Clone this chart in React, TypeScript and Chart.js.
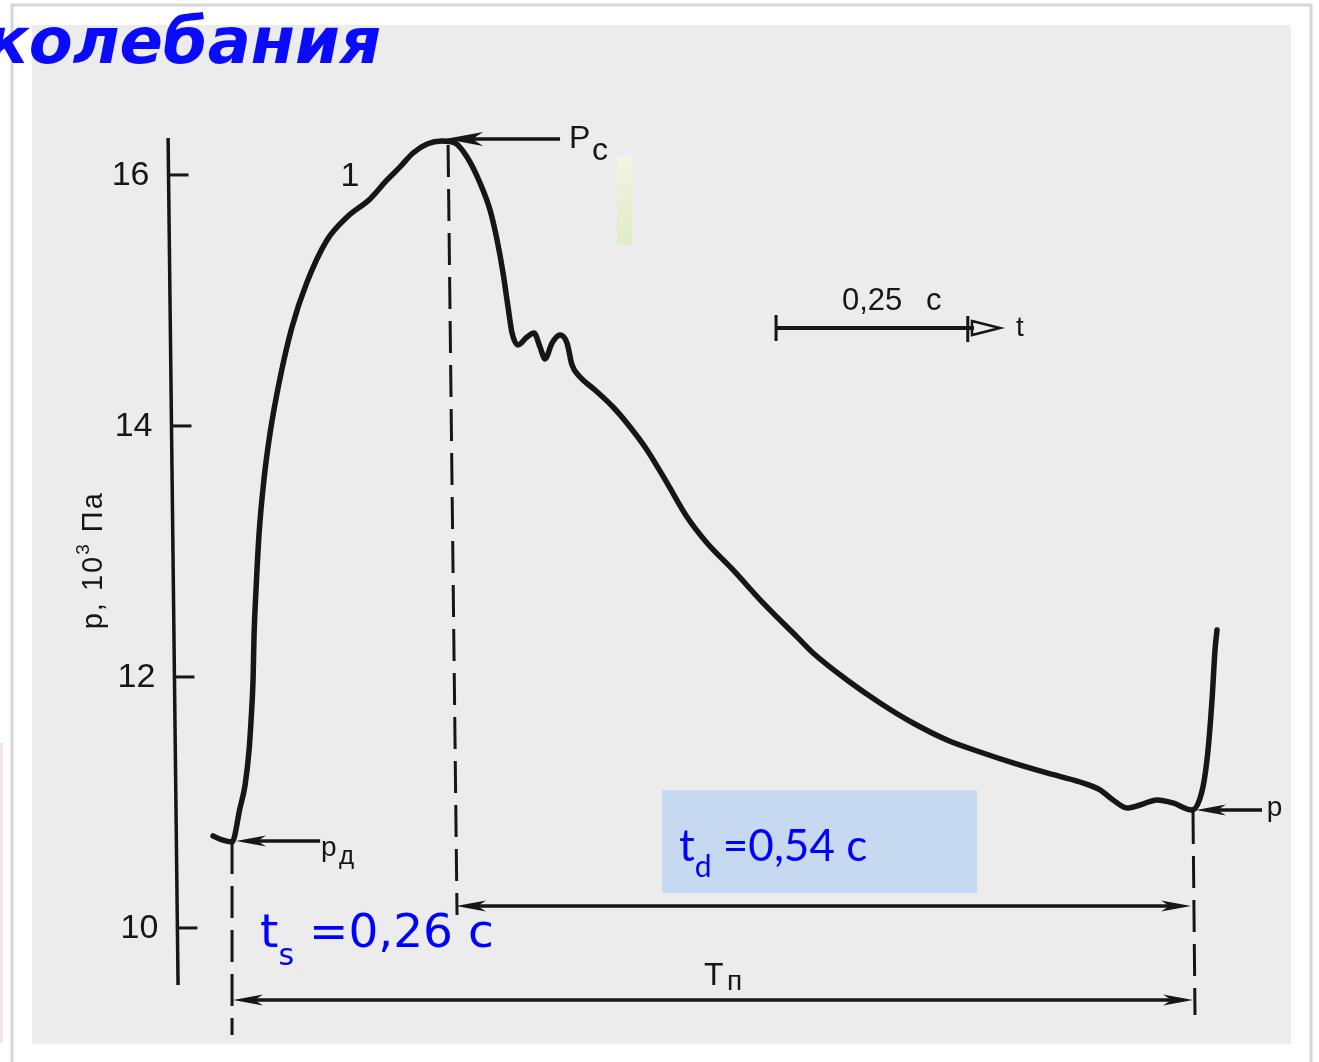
import React, { useEffect, useRef } from "react";
import { Chart, registerables } from "chart.js";

Chart.register(...registerables);

// ---------------- data ----------------
// time (s) from the start of the cycle, pressure (10^3 Pa)
const curveTimeS = [
  -0.0222, -0.0104, 0.0026, 0.013, 0.0196, 0.0248, 0.0274, 0.03, 0.0313, 0.0339,
  0.0378, 0.0443, 0.0522, 0.0652, 0.0808, 0.1004, 0.1265, 0.1526, 0.1826, 0.2047,
  0.2217, 0.2386, 0.2569, 0.2764, 0.2934, 0.309, 0.326, 0.339, 0.3482, 0.356,
  0.3625, 0.3677, 0.3755, 0.3873, 0.3964, 0.4042, 0.4107, 0.4199, 0.4303, 0.4394,
  0.4459, 0.4564, 0.4759, 0.4994, 0.5216, 0.5437, 0.5698, 0.5959, 0.622, 0.6559,
  0.695, 0.7393, 0.7602, 0.8045, 0.8476, 0.8906, 0.9349, 0.978, 1.021, 1.0653,
  1.1084, 1.1344, 1.1514, 1.1697, 1.1866, 1.2088, 1.2296, 1.2544, 1.2687, 1.2753,
  1.2805, 1.2844, 1.287,
];
const curvePressure = [
  10.733, 10.701, 10.685, 10.956, 11.139, 11.418, 11.657, 11.976, 12.335, 12.701,
  13.139, 13.578, 13.944, 14.382, 14.789, 15.147, 15.482, 15.665, 15.809, 15.96,
  16.064, 16.175, 16.247, 16.271, 16.255, 16.143, 15.936, 15.721, 15.482, 15.219,
  14.948, 14.741, 14.645, 14.709, 14.741, 14.629, 14.534, 14.661, 14.725, 14.661,
  14.486, 14.39, 14.287, 14.151, 13.992, 13.809, 13.546, 13.275, 13.068, 12.853,
  12.59, 12.319, 12.191, 11.976, 11.793, 11.633, 11.498, 11.402, 11.315, 11.235,
  11.163, 11.1, 11.02, 10.956, 10.98, 11.02, 10.996, 10.94, 11.124, 11.418,
  11.817, 12.215, 12.375,
];

const yTickValues = [10, 12, 14, 16];
const yTickLabels = ["10", "12", "14", "16"];
const yAxisTitle = ["p, 10", "3", " Па"];
const xRange = [-0.3, 1.42];
const yRange = [8.932, 17.394];

// hand-drawn vertical axis (t, p at both ends)
const yAxisLineT = [-0.0808, -0.0678];
const yAxisLineP = [16.294, 9.545];

// dashed vertical markers (start of systole, end of systole, end of cycle)
const markerTopT = [0.0026, 0.2843, 1.2557];
const markerTopP = [10.685, 16.239, 10.924];
const markerBottomT = [0.0026, 0.296, 1.2583];
const markerBottomP = [9.147, 10.104, 9.306];

// horizontal arrows: pд, Pc, p(end), t_d span, T span
const arrowFromT = [0.1174, 0.4303, 1.3457, 0.2947, 0.0039];
const arrowToT = [0.0078, 0.2804, 1.2596, 1.2531, 1.2557];
const arrowP = [10.693, 16.286, 10.94, 10.175, 9.426];
const arrowBothEnds = [false, false, false, true, true];

// time scale bar
const scaleBarStartT = 0.712;
const scaleBarLengthS = 0.25;
const scaleBarTipT = 1.004;
const scaleBarP = 14.78;

// figure labels (t, p of the text baseline start)
const labelTexts = ["1", "Р", "с", "р", "д", "Т", "п", "0,25", "с", "t", "р"];
const labelT = [0.1564, 0.442, 0.472, 0.1186, 0.142, 0.618, 0.648, 0.798, 0.9075, 1.025, 1.352];
const labelP = [15.91, 16.215, 16.119, 10.573, 10.51, 9.545, 9.505, 14.924, 14.924, 14.717, 10.892];
const labelSizes = [34, 32, 32, 28, 26, 32, 28, 31, 31, 28, 28];

// ---------------- drawing helpers ----------------
const W = 1319;
const H = 1062;
const INK = "#161616";
const SCAN_FONT = "'Liberation Sans', Arial, sans-serif";

function arrowHead(ctx: CanvasRenderingContext2D, tipX: number, tipY: number, dir: number, len: number, hw: number) {
  const bx = tipX - dir * len;
  ctx.beginPath();
  ctx.moveTo(tipX, tipY);
  ctx.lineTo(bx, tipY - hw);
  ctx.lineTo(tipX - dir * len * 0.72, tipY);
  ctx.lineTo(bx, tipY + hw);
  ctx.closePath();
  ctx.fill();
}

const decorPlugin = {
  id: "decor",
  beforeDraw(chart: any) {
    const ctx: CanvasRenderingContext2D = chart.ctx;
    ctx.save();
    ctx.fillStyle = "#ffffff";
    ctx.fillRect(0, 0, W, H);
    ctx.fillStyle = "#f5e3e5";
    ctx.fillRect(0, 743, 3, 300);
    ctx.strokeStyle = "#d6d6d6";
    ctx.lineWidth = 3;
    ctx.beginPath();
    ctx.moveTo(12, H);
    ctx.lineTo(12, 5);
    ctx.lineTo(1311, 5);
    ctx.lineTo(1311, H);
    ctx.stroke();
    ctx.fillStyle = "#ececec";
    ctx.fillRect(32, 25, 1259, 1019);
    const g = ctx.createLinearGradient(0, 155, 0, 245);
    g.addColorStop(0, "#f0f6e3");
    g.addColorStop(1, "#deecc7");
    ctx.fillStyle = g;
    ctx.fillRect(617, 155, 15, 90);
    ctx.restore();
  },
  beforeDatasetsDraw(chart: any) {
    const ctx: CanvasRenderingContext2D = chart.ctx;
    const xs = chart.scales.x;
    const ys = chart.scales.y;
    const X = (t: number) => xs.getPixelForValue(t);
    const Y = (p: number) => ys.getPixelForValue(p);
    ctx.save();
    ctx.strokeStyle = INK;
    ctx.fillStyle = INK;
    ctx.lineCap = "butt";

    // vertical axis
    ctx.lineWidth = 3.5;
    ctx.beginPath();
    ctx.moveTo(X(yAxisLineT[0]), Y(yAxisLineP[0]));
    ctx.lineTo(X(yAxisLineT[1]), Y(yAxisLineP[1]));
    ctx.stroke();
    const axisTAt = (p: number) =>
      yAxisLineT[0] + ((p - yAxisLineP[0]) / (yAxisLineP[1] - yAxisLineP[0])) * (yAxisLineT[1] - yAxisLineT[0]);
    ctx.font = `34px ${SCAN_FONT}`;
    ctx.textAlign = "right";
    ctx.textBaseline = "middle";
    yTickValues.forEach((v, i) => {
      const ax = X(axisTAt(v));
      const py = Y(v);
      ctx.lineWidth = 3;
      ctx.beginPath();
      ctx.moveTo(ax, py);
      ctx.lineTo(ax + 20, py);
      ctx.stroke();
      ctx.fillText(yTickLabels[i], ax - 19, py + 1);
    });

    // axis title (rotated)
    ctx.save();
    ctx.translate(X(-0.18), Y(12.93));
    ctx.rotate(-Math.PI / 2);
    ctx.textBaseline = "alphabetic";
    ctx.textAlign = "left";
    (ctx as any).letterSpacing = "2px";
    ctx.font = `29px ${SCAN_FONT}`;
    const w0 = ctx.measureText(yAxisTitle[0]).width;
    ctx.font = `19px ${SCAN_FONT}`;
    const w1 = ctx.measureText(yAxisTitle[1]).width;
    ctx.font = `29px ${SCAN_FONT}`;
    const w2 = ctx.measureText(yAxisTitle[2]).width;
    let cx = -(w0 + w1 + w2) / 2;
    ctx.fillText(yAxisTitle[0], cx, 10);
    cx += w0;
    ctx.font = `19px ${SCAN_FONT}`;
    ctx.fillText(yAxisTitle[1], cx, -3);
    cx += w1;
    ctx.font = `29px ${SCAN_FONT}`;
    ctx.fillText(yAxisTitle[2], cx, 10);
    ctx.restore();

    // dashed markers
    ctx.lineWidth = 3;
    ctx.setLineDash([32, 12]);
    markerTopT.forEach((t, i) => {
      ctx.beginPath();
      ctx.moveTo(X(t), Y(markerTopP[i]));
      ctx.lineTo(X(markerBottomT[i]), Y(markerBottomP[i]));
      ctx.stroke();
    });
    ctx.setLineDash([]);

    // arrows
    arrowFromT.forEach((t0, i) => {
      const x0 = X(t0);
      const x1 = X(arrowToT[i]);
      const y = Y(arrowP[i]);
      const dir = Math.sign(x1 - x0);
      const len = i === 1 ? 38 : 30;
      const hw = i === 1 ? 7 : 5.5;
      ctx.lineWidth = 3.5;
      ctx.beginPath();
      ctx.moveTo(x0 + (arrowBothEnds[i] ? dir * len * 0.7 : 0), y);
      ctx.lineTo(x1 - dir * len * 0.7, y);
      ctx.stroke();
      arrowHead(ctx, x1, y, dir, len, hw);
      if (arrowBothEnds[i]) arrowHead(ctx, x0, y, -dir, len, hw);
    });

    // time scale bar
    const sx0 = X(scaleBarStartT);
    const sx1 = X(scaleBarStartT + scaleBarLengthS);
    const sTip = X(scaleBarTipT);
    const sy = Y(scaleBarP);
    ctx.lineWidth = 4;
    ctx.beginPath();
    ctx.moveTo(sx0, sy);
    ctx.lineTo(sTip - 26, sy);
    ctx.stroke();
    ctx.lineWidth = 3;
    ctx.beginPath();
    ctx.moveTo(sx0, sy - 13);
    ctx.lineTo(sx0, sy + 13);
    ctx.moveTo(sx1, sy - 12);
    ctx.lineTo(sx1, sy + 14);
    ctx.stroke();
    ctx.lineWidth = 2.5;
    ctx.beginPath();
    ctx.moveTo(sTip - 28, sy - 7);
    ctx.lineTo(sTip, sy);
    ctx.lineTo(sTip - 28, sy + 7);
    ctx.closePath();
    ctx.stroke();

    // labels
    ctx.textBaseline = "alphabetic";
    labelTexts.forEach((s, i) => {
      ctx.font = `${labelSizes[i]}px ${SCAN_FONT}`;
      const x = X(labelT[i]);
      ctx.textAlign = i === 0 ? "center" : "left";
      ctx.fillText(s, x, Y(labelP[i]));
    });
    ctx.restore();
  },
  afterDatasetsDraw(chart: any) {
    const ctx: CanvasRenderingContext2D = chart.ctx;
    ctx.save();
    ctx.textAlign = "left";
    ctx.textBaseline = "alphabetic";
    // blue box with t_d
    ctx.fillStyle = "#c6d9f1";
    ctx.fillRect(662, 790, 315, 103);
    ctx.fillStyle = "#0000ff";
    ctx.font = "44px Lato, 'Open Sans', sans-serif";
    ctx.fillText("t", 679, 861);
    let x = 679 + ctx.measureText("t").width;
    ctx.font = "30px Lato, 'Open Sans', sans-serif";
    ctx.fillText("d", x, 877);
    x += ctx.measureText("d").width;
    ctx.font = "44px Lato, 'Open Sans', sans-serif";
    ctx.fillText(" =0,54 с", x, 861);

    // t_s
    ctx.font = "47px 'DejaVu Sans', sans-serif";
    ctx.fillText("t", 260, 947);
    x = 260 + ctx.measureText("t").width;
    ctx.font = "30px 'DejaVu Sans', sans-serif";
    ctx.fillText("s", x, 965);
    x += ctx.measureText("s").width;
    ctx.font = "47px 'DejaVu Sans', sans-serif";
    ctx.fillText(" =0,26 с", x, 947);

    // slide title (cut off at the left edge)
    ctx.fillStyle = "#0a0aff";
    ctx.font = "italic bold 64px 'DejaVu Sans', Verdana, sans-serif";
    ctx.textAlign = "right";
    ctx.fillText("колебания", 381, 63);
    ctx.restore();
  },
};

export default function App() {
  const ref = useRef<HTMLCanvasElement>(null);
  useEffect(() => {
    if (!ref.current) return;
    const points = curveTimeS.map((t, i) => ({ x: t, y: curvePressure[i] }));
    const chart = new Chart(ref.current, {
      type: "line",
      data: {
        datasets: [
          {
            data: points,
            borderColor: INK,
            borderWidth: 5.5,
            pointRadius: 0,
            cubicInterpolationMode: "monotone",
            fill: false,
            clip: false as any,
            borderCapStyle: "round",
            borderJoinStyle: "round",
          } as any,
        ],
      },
      options: {
        animation: false,
        responsive: false,
        devicePixelRatio: 1,
        layout: { padding: 0, autoPadding: false } as any,
        plugins: { legend: { display: false }, tooltip: { enabled: false }, title: { display: false } },
        events: [],
        scales: {
          x: { type: "linear", min: xRange[0], max: xRange[1], display: false },
          y: { type: "linear", min: yRange[0], max: yRange[1], display: false },
        },
      },
      plugins: [decorPlugin],
    });
    return () => chart.destroy();
  }, []);
  return (
    <div style={{ position: "absolute", left: 0, top: 0, width: W, height: H, background: "#fff" }}>
      <canvas ref={ref} width={W} height={H} style={{ display: "block", width: W, height: H }} />
    </div>
  );
}
